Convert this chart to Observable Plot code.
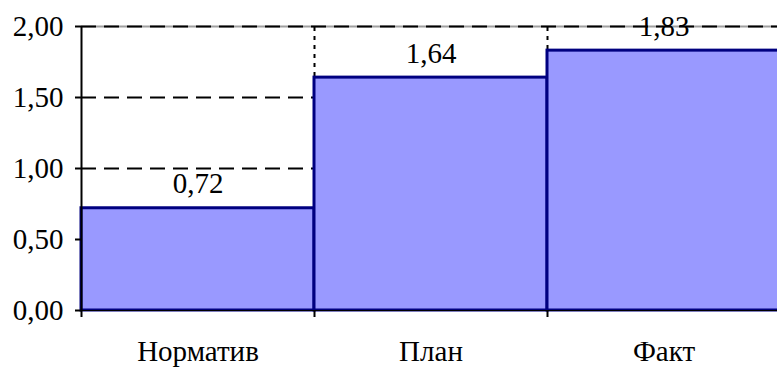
<!DOCTYPE html>
<html>
<head>
<meta charset="utf-8">
<script src="https://cdn.jsdelivr.net/npm/d3@7"></script>
<script src="https://cdn.jsdelivr.net/npm/@observablehq/plot@0.6"></script>
<style>
  html, body { margin: 0; padding: 0; background: #fff; overflow: hidden; }
  svg, svg text { font-family: "Liberation Serif", "Times New Roman", serif !important; }
</style>
</head>
<body>
<div id="chart"></div>
<script>
// Показатели: норматив, план, факт
const categories = ["Норматив", "План", "Факт"];
const values = [0.72, 1.64, 1.83];
const yTicks = [0, 0.5, 1, 1.5, 2];
const gridValues = [1, 1.5, 2];

const rows = categories.map((name, i) => ({name, i, value: values[i]}));
const comma = d => d3.format(".2f")(d).replace(".", ",");

const chart = Plot.plot({
  width: 777,
  height: 367,
  marginLeft: 81,
  marginRight: -3,
  marginTop: 26,
  marginBottom: 57,
  style: {fontSize: "29px", color: "#000", background: "#fff", overflow: "visible"},
  x: {domain: [0, categories.length], axis: null},
  y: {domain: [0, 2], axis: null},
  marks: [
    // top border of the plot area
    Plot.ruleY([2], {stroke: "#a0a0a0", strokeWidth: 2}),
    // dashed horizontal gridlines
    Plot.ruleY(gridValues, {stroke: "#000", strokeWidth: 2, strokeDasharray: "15,8"}),
    // dotted separators between categories
    Plot.ruleX(d3.range(1, categories.length), {y1: 0, y2: 2, stroke: "#000", strokeWidth: 2, strokeDasharray: "4,5"}),
    // bars, touching each other
    Plot.rectY(rows, {x1: d => d.i, x2: d => d.i + 1, y: "value", fill: "#9999ff", stroke: "#000080", strokeWidth: 3}),
    // axes lines
    Plot.ruleX([0], {stroke: "#000", strokeWidth: 2}),
    Plot.ruleY([0], {stroke: "#000", strokeWidth: 1}),
    Plot.axisY({ticks: yTicks, tickFormat: comma, tickSize: 6, tickPadding: 12, fontSize: 29, stroke: "#000", strokeWidth: 2, label: null}),
    Plot.axisX({ticks: d3.range(0, categories.length + 1), tickFormat: () => "", tickSize: 7, stroke: "#000", strokeWidth: 2, label: null}),
    // category names under the axis
    Plot.text(rows, {x: d => d.i + 0.5, text: "name", frameAnchor: "bottom", lineAnchor: "bottom", dy: 50, fontSize: 29, fill: "#000"}),
    // value labels
    Plot.text(rows, {x: d => d.i + 0.5, y: "value", text: d => comma(d.value), lineAnchor: "bottom", dy: -15, fontSize: 29, fill: "#000"})
  ]
});
document.getElementById("chart").appendChild(chart);
</script>
</body>
</html>
